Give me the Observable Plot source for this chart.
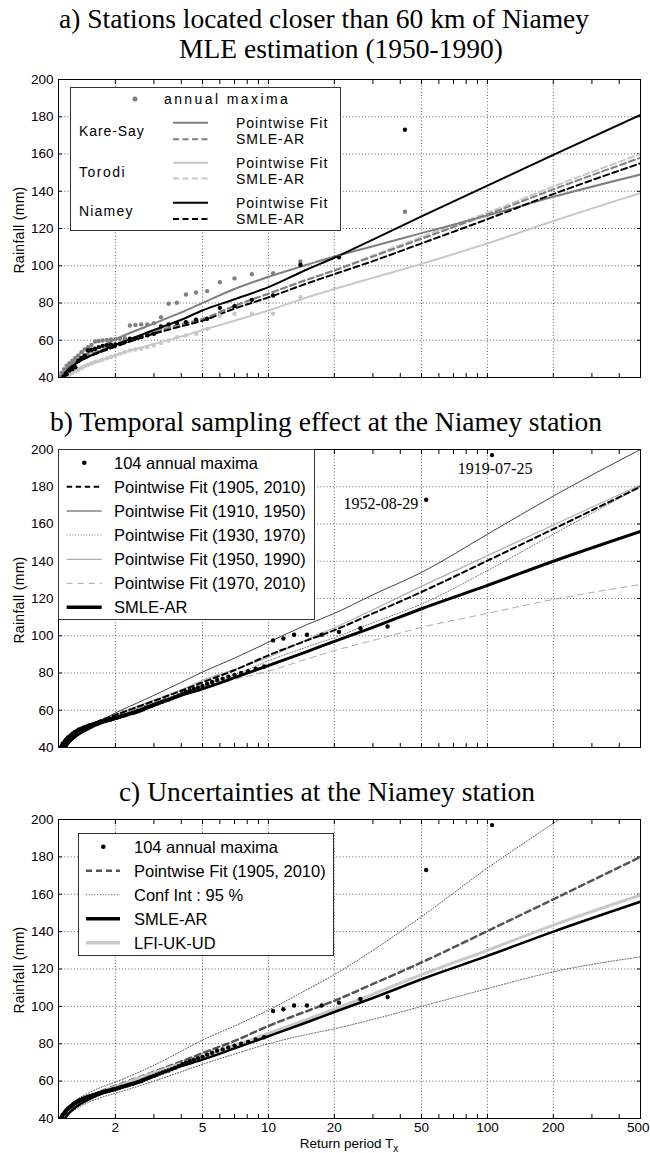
<!DOCTYPE html>
<html><head><meta charset="utf-8">
<script src="https://cdn.jsdelivr.net/npm/d3@7"></script>
<script src="https://cdn.jsdelivr.net/npm/@observablehq/plot@0.6"></script>
<style>
html,body{margin:0;padding:0;background:#fff;}
#root{position:relative;width:650px;height:1153px;overflow:hidden;background:#fff;}
#root > div.panel{position:absolute;left:0;}
#overlay{position:absolute;left:0;top:0;pointer-events:none;}
</style></head><body><div id="root"></div>
<script>
// ---------------- scales / ticks ----------------
const X_DOMAIN = [1.1, 500];
const Y_DOMAIN = [40, 200];
const Y_TICKS = [40, 60, 80, 100, 120, 140, 160, 180, 200];
const X_LABEL_TICKS = [2, 5, 10, 20, 50, 100, 200];
const X_LAST_TICK = [500];
const X_MINOR_TICKS = [2,3,4,5,6,7,8,9,10,20,30,40,50,60,70,80,90,100,200,300,400,500];
const GRID_X = [2, 5, 10, 20, 50, 100, 200];
const GRID_Y = [60, 80, 100, 120, 140, 160, 180];

// return periods at which the fitted curves are read
const T_GRID = [1.1, 1.15, 1.2, 1.3, 1.5, 1.75, 2, 3, 4, 5, 7, 10, 15, 20, 30, 50, 100, 200, 500];

// ---------------- panel a : stations (1950-1990) ----------------
const kareSayFit  = [38, 42, 45, 48.5, 53, 57, 60.5, 69, 75, 80, 87.5, 94, 100.5, 105, 110.5, 117.5, 127, 137, 149];
const kareSaySmle = [36.5, 41, 44.5, 48, 52, 55, 57.5, 64.5, 68.5, 71.5, 78.5, 85, 92.5, 97.5, 105, 114.5, 127.5, 141, 158];
const torodiFit   = [36, 39, 41.5, 44, 47, 49.5, 52, 58, 62, 65.5, 70.5, 76, 83, 87.5, 93.5, 101, 112, 124, 139];
const torodiSmle  = [36.5, 41, 44.5, 48, 52, 55, 57.5, 64.5, 68.5, 71.5, 78.5, 85, 92.5, 97.5, 105.5, 115.5, 128.5, 142.5, 160];
const niameyFit   = [37.5, 41, 43.5, 47, 51, 54.5, 57.5, 65.5, 71, 76, 82, 88.5, 98, 104.3, 114, 126.5, 143, 159.5, 181];
const niameySmleA = [35.5, 40, 43.5, 47, 51, 54, 56.5, 63.5, 67.5, 70.5, 77, 83, 90.5, 95.5, 102.5, 112, 125, 138.5, 155];

const kareSayMaxima = [[42,129],[21,105],[14,102.3],[10.5,96],[8.4,95.5],[7,93.2],[6,91.2],[5.25,86.4],[4.67,85.6],[4.2,84.6],
 [3.82,80.1],[3.5,79.6],[3.23,72.4],[3,69.2],[2.8,68.5],[2.625,68.5],[2.47,68.2],[2.33,67.9],[2.21,61.1],[2.1,60.8],
 [2,60.6],[1.91,60.4],[1.83,60.2],[1.75,59.9],[1.68,59.6],[1.615,59.3],[1.556,57.5],[1.5,56.3],[1.448,55],[1.4,53.6],
 [1.355,51.8],[1.3125,50.5],[1.273,49],[1.235,47.7],[1.2,46.4],[1.167,44.5],[1.135,42.5],[1.105,40.5]];
const torodiMaxima = [[14,83.1],[10.5,74.2],[8.4,74.2],[7,74.2],[6,73.3],[5.25,66.1],[4.67,63.5],[4.2,62.6],[3.82,61.7],[3.5,59.9],
 [3.23,58.5],[3,57.2],[2.8,56.3],[2.625,55.4],[2.47,55],[2.33,54.5],[2.21,53.6],[2.1,52.8],[2,51.8],[1.91,51],
 [1.83,50.3],[1.75,49.5],[1.68,48.8],[1.615,48.3],[1.556,47.5],[1.5,46.8],[1.448,46],[1.4,45],[1.355,44.1],[1.3125,43.3],
 [1.273,42.5],[1.235,41.5],[1.2,40.5]];
const niameyMaximaA = [[42,173],[21,104.5],[14,100.5],[10.5,84],[8.4,81.7],[7,78.3],[6,77.4],[5.25,71.5],[4.67,71.1],[4.2,69.7],
 [3.82,69.2],[3.5,68.5],[3.23,67.4],[3,63.5],[2.8,62.6],[2.625,61.7],[2.47,61],[2.33,60.8],[2.21,59],[2.1,58.1],
 [2,57.8],[1.91,57.6],[1.83,57.3],[1.75,57],[1.68,56.3],[1.615,55.4],[1.556,54.9],[1.5,54.5],[1.448,51.8],[1.4,50.5],
 [1.355,49],[1.3125,45.5],[1.273,44.5],[1.235,43.7],[1.2,41.9],[1.167,40.5]];

// ---------------- panel b / c : Niamey 1905-2010 ----------------
const fit1905 = [34, 39, 43, 47, 51.5, 55, 57.5, 65, 70.5, 75, 81.5, 89.5, 97.5, 103, 112, 123.5, 140.3, 157.3, 180];
const fit1910 = [30, 35, 40, 45, 50.5, 55, 58.5, 68, 75, 80.5, 88, 96.5, 106, 112, 122, 134, 154.5, 175, 200];
const fit1930 = [35, 39.5, 43, 47, 51, 54.5, 57, 64, 69, 73, 79, 86.5, 94, 99, 107, 117, 135, 154.5, 180];
const fit1950 = niameyFit;
const fit1970 = [36, 40, 44, 47.5, 51.5, 55, 57.5, 64, 68.5, 71.5, 76.5, 81, 87.5, 92, 97.5, 104.5, 112, 119.5, 127.5];
const smleAR  = [33, 38, 41.5, 45.5, 50, 53.5, 55.5, 63, 68, 71.5, 77.5, 84, 91.5, 97, 104.5, 114.5, 127, 140, 156];
const lfiUkUd = [34, 39, 43, 46.5, 51, 54.5, 57, 64.5, 69.5, 73, 79, 85.5, 93, 98.5, 106.5, 117, 130, 143.5, 159.5];
const ciUpper = [35, 40, 44.5, 49, 53.5, 57, 59.5, 68.5, 76, 82, 89.5, 98, 109, 117, 130, 148, 174, 198, 230];
const ciLower = [33, 37.5, 41, 44.5, 48.5, 51.5, 53.5, 60, 65, 69, 74.5, 80, 85, 88, 93, 100, 109.5, 118.5, 126.5];

const niameyMaxima = [
 [105,197],[52.5,173],[35,105],[26.3,104],[21,102],[17.5,100.5],[15,100.5],[13.1,100.5],[11.7,98.5],[10.5,97.5],
 [9.55,83.5],[8.75,82.3],[8.08,81],[7.5,80],[7,79],[6.56,78],[6.18,77],[5.83,76.3],[5.53,75.2],[5.25,74.2],
 [5,73],[4.77,72.3],[4.57,71.5],[4.38,70.8],[4.2,70],[4.04,69],[3.89,68],[3.75,67.2],[3.62,66.4],[3.5,65.7],
 [3.39,65.2],[3.28,64.6],[3.18,64],[3.09,63.4],[3,62.8],[2.92,62.3],[2.84,61.8],[2.76,61.2],[2.69,60.6],[2.63,60.1],
 [2.56,59.6],[2.5,59.2],[2.44,58.8],[2.39,58.5],[2.33,58.2],[2.28,57.8],[2.23,57.5],[2.19,57.2],[2.14,57],[2.1,56.6],
 [2.06,56.3],[2.02,56],[1.98,55.8],[1.94,55.5],[1.91,55.2],[1.88,55],[1.84,54.8],[1.81,54.5],[1.78,54.3],[1.75,54],
 [1.72,53.8],[1.69,53.5],[1.67,53.3],[1.64,53],[1.62,52.8],[1.59,52.5],[1.57,52.3],[1.54,52],[1.52,51.8],[1.5,51.5],
 [1.48,51.2],[1.46,51],[1.44,50.7],[1.42,50.4],[1.4,50.1],[1.38,49.8],[1.36,49.5],[1.35,49.2],[1.33,48.8],[1.31,48.4],
 [1.3,48],[1.28,47.5],[1.27,47],[1.25,46.5],[1.24,46],[1.22,45.5],[1.21,45],[1.19,44.2],[1.18,43.5],[1.17,42.8],
 [1.15,42],[1.14,41],[1.13,40.3]];
const annotationDates = ["1919-07-25", "1952-08-29"];

// ---------------- drawing ----------------
const FONT = '"Liberation Sans", Arial, Helvetica, sans-serif';
const SERIF = '"Liberation Serif", "Times New Roman", serif';
const root = document.getElementById("root");

function axesMarks(showXLabels) {
  const g = {stroke: "#000", strokeOpacity: 0.8, strokeWidth: 0.8, strokeDasharray: "1,2.2"};
  const m = [
    Plot.gridX(GRID_X, g),
    Plot.gridY(GRID_Y, g),
    Plot.axisY(Y_TICKS, {anchor: "left", tickSize: 0, tickPadding: 5, fontSize: 13.5, label: null, text: d => String(d)}),
    Plot.axisY(Y_TICKS, {anchor: "left", tickSize: -4, text: () => "", label: null}),
    Plot.axisY(Y_TICKS, {anchor: "right", tickSize: -4, text: () => "", label: null}),
    Plot.axisX(X_MINOR_TICKS, {anchor: "bottom", tickSize: -4, text: () => "", label: null}),
    Plot.axisX(X_MINOR_TICKS, {anchor: "top", tickSize: -4, text: () => "", label: null})
  ];
  if (showXLabels) {
    m.push(Plot.text(X_LABEL_TICKS, {x: d => d, text: d => String(d), frameAnchor: "bottom", lineAnchor: "top", dy: 4, fontSize: 13.5}));
    m.push(Plot.text(X_LAST_TICK, {x: d => d, text: d => String(d), frameAnchor: "bottom", lineAnchor: "top", dy: 4, dx: 9, textAnchor: "end", fontSize: 13.5}));
  }
  return m;
}
const curve = (values, opts) => Plot.line(T_GRID, {x: T_GRID, y: values, curve: "monotone-x", clip: true, ...opts});
const dots = (arr, fill, r = 2.2) => Plot.dot(arr, {x: d => d[0], y: d => d[1], r, fill, clip: true});

function panel(top, height, marginBottom, marks, showX) {
  const svg = Plot.plot({
    width: 650, height, marginLeft: 58, marginRight: 10, marginTop: 19, marginBottom,
    x: {type: "log", domain: X_DOMAIN, label: null},
    y: {domain: Y_DOMAIN, label: null},
    style: {fontFamily: FONT, fontSize: "13.5px", background: "transparent", color: "#000", overflow: "visible"},
    marks: [...axesMarks(showX), ...marks, Plot.frame({stroke: "#000", strokeWidth: 1})]
  });
  const div = document.createElement("div");
  div.className = "panel";
  div.style.top = top + "px";
  div.appendChild(svg);
  root.appendChild(div);
}

// Panel a
panel(60, 340, 23, [
  curve(torodiFit, {stroke: "#c8c8c8", strokeWidth: 2}),
  curve(torodiSmle, {stroke: "#c8c8c8", strokeWidth: 2, strokeDasharray: "6,3.5"}),
  curve(kareSayFit, {stroke: "#808080", strokeWidth: 2}),
  curve(kareSaySmle, {stroke: "#808080", strokeWidth: 2, strokeDasharray: "6,3.5"}),
  curve(niameyFit, {stroke: "#000", strokeWidth: 2}),
  curve(niameySmleA, {stroke: "#000", strokeWidth: 2, strokeDasharray: "6,3.5"}),
  dots(torodiMaxima, "#c8c8c8"),
  dots(kareSayMaxima, "#808080"),
  dots(niameyMaximaA, "#000")
], false);

// Panel b
const labelRows = annotationDates.map((s, i) => ({T: niameyMaxima[i][0], v: niameyMaxima[i][1], label: s}));
panel(430, 340, 23, [
  curve(fit1970, {stroke: "#a8a8a8", strokeWidth: 1, strokeDasharray: "6,5"}),
  curve(fit1950, {stroke: "#b0b0b0", strokeWidth: 1.2}),
  curve(fit1930, {stroke: "#777", strokeWidth: 1, strokeDasharray: "1,1.8"}),
  curve(fit1910, {stroke: "#444", strokeWidth: 1}),
  curve(fit1905, {stroke: "#000", strokeWidth: 2, strokeDasharray: "5.5,3.5"}),
  curve(smleAR, {stroke: "#000", strokeWidth: 3}),
  dots(niameyMaxima, "#000"),
  Plot.text(labelRows.slice(0, 1), {x: "T", y: "v", text: "label", dx: 3, dy: 14, textAnchor: "middle", fontFamily: SERIF, fontSize: 16}),
  Plot.text(labelRows.slice(1), {x: "T", y: "v", text: "label", dx: -8, dy: 4, textAnchor: "end", fontFamily: SERIF, fontSize: 16})
], false);

// Panel c
panel(800, 353, 35, [
  curve(ciUpper, {stroke: "#555", strokeWidth: 1, strokeDasharray: "1,1.8"}),
  curve(ciLower, {stroke: "#555", strokeWidth: 1, strokeDasharray: "1,1.8"}),
  curve(fit1905, {stroke: "#555", strokeWidth: 2.5, strokeDasharray: "6,4"}),
  curve(lfiUkUd, {stroke: "#c8c8c8", strokeWidth: 3}),
  curve(smleAR, {stroke: "#000", strokeWidth: 2.5}),
  dots(niameyMaxima, "#000")
], true);

// ---------------- overlay: titles, axis labels, legends ----------------
const ov = d3.select(root).append("svg").attr("id", "overlay").attr("width", 650).attr("height", 1153);
function txt(x, y, s, o = {}) {
  const t = ov.append("text").attr("x", x).attr("y", y).text(s)
    .attr("font-family", o.family || FONT).attr("font-size", o.size || 16).attr("fill", "#000");
  if (o.anchor) t.attr("text-anchor", o.anchor);
  if (o.ls) t.attr("letter-spacing", o.ls);
  if (o.transform) t.attr("transform", o.transform);
  return t;
}
function seg(x1, x2, y, stroke, w, dash) {
  const l = ov.append("line").attr("x1", x1).attr("x2", x2).attr("y1", y).attr("y2", y)
    .attr("stroke", stroke).attr("stroke-width", w);
  if (dash) l.attr("stroke-dasharray", dash);
}
function box(x, y, w, h) {
  ov.append("rect").attr("x", x + 0.5).attr("y", y + 0.5).attr("width", w).attr("height", h)
    .attr("fill", "#fff").attr("stroke", "#333").attr("stroke-width", 1);
}

// titles
txt(324, 28, "a) Stations located closer than 60 km of Niamey", {family: SERIF, size: 27.5, anchor: "middle"});
txt(341, 57.5, "MLE estimation (1950-1990)", {family: SERIF, size: 27.5, anchor: "middle"});
txt(326, 430.5, "b) Temporal sampling effect at the Niamey station", {family: SERIF, size: 27.5, anchor: "middle"});
txt(327, 801, "c) Uncertainties at the Niamey station", {family: SERIF, size: 27.5, anchor: "middle"});

// axis labels
[230, 600, 970].forEach(cy => txt(24, cy, "Rainfall (mm)", {size: 14, anchor: "middle", transform: `rotate(-90,24,${cy})`, ls: 0.3}));
const xl = txt(349, 1148, "Return period T", {size: 13.5, anchor: "middle"});
xl.append("tspan").attr("font-size", 10).attr("dy", 3.5).text("x");

// legend a
box(70, 87, 270, 143);
ov.append("circle").attr("cx", 135).attr("cy", 99).attr("r", 2.5).attr("fill", "#808080");
txt(164, 104, "annual maxima", {size: 14, ls: 2.4});
const stA = [["Kare-Say", "#808080", 122.7, 139.3, 136, 0.9], ["Torodi", "#c8c8c8", 162.7, 178.5, 177, 1.5], ["Niamey", "#000", 202.7, 219, 216, 1.2]];
stA.forEach(([name, col, y1, y2, yn, ls]) => {
  txt(79, yn, name, {size: 14, ls});
  seg(173, 208, y1, col, 2);
  seg(173, 208, y2, col, 2, "6,3.5");
  txt(236, y1 + 5, "Pointwise Fit", {size: 14, ls: 1});
  txt(236, y2 + 5, "SMLE-AR", {size: 14, ls: 1});
});

// legend b
box(58, 449, 256, 170);
const rowsB = [462.7, 486.7, 511, 535, 559.3, 583.3, 607.3];
ov.append("circle").attr("cx", 84.3).attr("cy", rowsB[0]).attr("r", 2.3).attr("fill", "#000");
const legB = [
  ["104 annual maxima", null],
  ["Pointwise Fit (1905, 2010)", ["#000", 2, "5.5,3.5"]],
  ["Pointwise Fit (1910, 1950)", ["#444", 1, null]],
  ["Pointwise Fit (1930, 1970)", ["#777", 1, "1,1.8"]],
  ["Pointwise Fit (1950, 1990)", ["#b0b0b0", 1.2, null]],
  ["Pointwise Fit (1970, 2010)", ["#a8a8a8", 1, "6,5"]],
  ["SMLE-AR", ["#000", 3.5, null]]
];
legB.forEach(([s, st], i) => {
  if (st) seg(66.7, 101.7, rowsB[i], st[0], st[1], st[2]);
  txt(114, rowsB[i] + 6, s, {size: 16.5});
});

// legend c
box(78, 833, 255, 122);
const rowsC = [846.7, 870.7, 894.7, 918.7, 942.7];
ov.append("circle").attr("cx", 103.3).attr("cy", rowsC[0]).attr("r", 2.3).attr("fill", "#000");
const legC = [
  ["104 annual maxima", null],
  ["Pointwise Fit (1905, 2010)", ["#555", 2.5, "6,4"]],
  ["Conf Int : 95 %", ["#555", 1, "1,1.8"]],
  ["SMLE-AR", ["#000", 3.5, null]],
  ["LFI-UK-UD", ["#c8c8c8", 3.5, null]]
];
legC.forEach(([s, st], i) => {
  if (st) seg(86, 120, rowsC[i], st[0], st[1], st[2]);
  txt(134, rowsC[i] + 6, s, {size: 16.5});
});
</script></body></html>
